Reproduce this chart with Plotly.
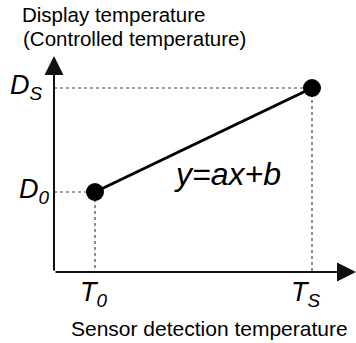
import plotly.graph_objects as go

# sensor detection temperature (T0, TS) and display temperature (D0, DS)
sensor_temp = [41, 258]
display_temp = [80, 184]
sensor_labels = ["<i>T</i><sub><i>0</i></sub>", "<i>T</i><sub><i>S</i></sub>"]
display_labels = ["<i>D</i><sub><i>0</i></sub>", "<i>D</i><sub><i>S</i></sub>"]
x_max, y_max = 302, 216

FONT = "Liberation Sans, Arial, sans-serif"


def px(v):
    return v / x_max


def py(v):
    return v / y_max


def label(x, y, text, size):
    fig.add_annotation(x=px(x), y=py(y), xref="paper", yref="paper", text=text,
                       showarrow=False, xanchor="center", yanchor="middle",
                       font=dict(family=FONT, size=size, color="black"))


fig = go.Figure()

# dotted guide lines
for t, d in zip(sensor_temp, display_temp):
    fig.add_trace(go.Scatter(x=[0, t, t], y=[d, d, 0], mode="lines",
                             line=dict(color="#444", width=1.2, dash="dot"),
                             hoverinfo="skip", cliponaxis=False))

# y = ax + b
fig.add_trace(go.Scatter(x=sensor_temp, y=display_temp, mode="lines+markers",
                         line=dict(color="black", width=3),
                         marker=dict(color="black", size=18), cliponaxis=False))

# axes with arrows
for x, y in ((x_max, 0), (0, y_max)):
    fig.add_annotation(x=x, y=y, ax=0, ay=0, xref="x", yref="y", axref="x", ayref="y",
                       text="", showarrow=True, arrowhead=2, arrowsize=1.9,
                       arrowwidth=2, arrowcolor="#111")

for t, lab, dx in zip(sensor_temp, sensor_labels, (-1, -6)):
    label(t + dx, -22, lab, 27)
for d, lab, dx in zip(display_temp, display_labels, (-20, -28)):
    label(dx, d + 1, lab, 27)

label(173, 98, "<i>y=ax+b</i>", 32)
label(59, 257, "Display temperature", 20.5)
label(80, 234, "(Controlled temperature)", 20.5)
label(155, -56, "Sensor detection temperature", 21)

fig.update_layout(width=356, height=343, margin=dict(l=54, r=0, t=56, b=71),
                  plot_bgcolor="white", paper_bgcolor="white", showlegend=False)
fig.update_xaxes(range=[0, x_max], visible=False)
fig.update_yaxes(range=[0, y_max], visible=False)

fig.write_html("out.html", config={"displayModeBar": False},
               post_script="document.body.style.margin='0';")
